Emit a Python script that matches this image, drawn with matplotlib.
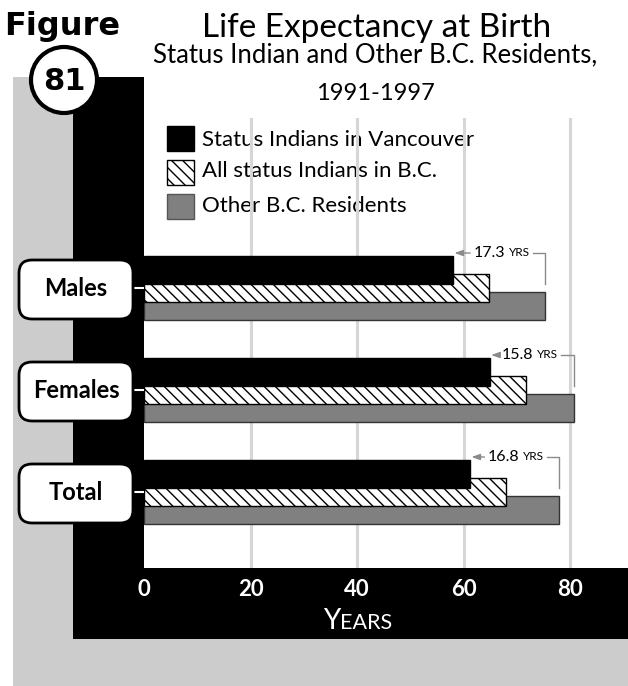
import matplotlib
matplotlib.use("Agg")
import matplotlib.pyplot as plt
from matplotlib.patches import Rectangle, Circle, FancyBboxPatch
import numpy as np

# data
groups = ["Males", "Females", "Total"]
vancouver = [58.0, 64.9, 61.2]
all_bc_status = [64.8, 71.7, 68.0]
other_bc = [75.3, 80.7, 78.0]
gap_labels = ["17.3", "15.8", "16.8"]
series_names = ["Status Indians in Vancouver", "All status Indians in B.C.", "Other B.C. Residents"]
xticks = [0, 20, 40, 60, 80]

W, H = 628, 686
plt.rcParams["font.family"] = ["Lato", "DejaVu Sans"]
plt.rcParams["hatch.linewidth"] = 1.0

fig = plt.figure(figsize=(W / 100, H / 100), dpi=100)

# background in pixel coords
bg = fig.add_axes([0, 0, 1, 1])
bg.set_xlim(0, W)
bg.set_ylim(H, 0)
bg.axis("off")
bg.add_patch(Rectangle((13, 77), W - 13, H - 77, color="#cccccc", lw=0))
bg.add_patch(Rectangle((73, 77), W - 73, 639 - 77, color="black", lw=0))
bg.add_patch(Rectangle((144, 77), W - 144, 568 - 77, color="white", lw=0))

# plot axes
ax = fig.add_axes([144 / W, (H - 568) / H, (W - 144) / W, (568 - 118) / H])
ax.set_facecolor("none")
ax.set_xlim(0, (W - 144) / 5.325)
ax.set_ylim(2 + 76 / 102, -170 / 102)
for s in ax.spines.values():
    s.set_visible(False)
ax.set_xticks(xticks)
ax.set_yticks([])
ax.tick_params(axis="x", length=0, pad=8, labelcolor="white", labelsize=16)
for lab in ax.get_xticklabels():
    lab.set_fontweight("bold")
ax.grid(axis="x", color="#d6d6d6", lw=2.2)
ax.set_axisbelow(True)
ax.get_xgridlines()[0].set_visible(False)

y = np.arange(len(groups))
bh = 28 / 102
off = 18 / 102
ax.barh(y + off, other_bc, height=bh, color="#808080", edgecolor="#333333", lw=1)
ax.barh(y, all_bc_status, height=bh, color="white", edgecolor="black", lw=1, hatch="\\\\\\")
ax.barh(y - off, vancouver, height=bh, color="black", edgecolor="black", lw=1)

# gap annotations
fig.canvas.draw()
r = fig.canvas.get_renderer()
inv = ax.transData.inverted()
ann = "#8a8a8a"
for i in range(len(groups)):
    ya = i - off - bh / 2 - 3 / 102
    t_yrs = ax.annotate("YRS", (other_bc[i], ya), xytext=(-11, 0), textcoords="offset points",
                        ha="right", va="center", fontsize=8.5, color="black")
    bb2 = t_yrs.get_window_extent(r)
    x_num = inv.transform((bb2.x0 - 4, 0))[0]
    t_num = ax.text(x_num, ya, gap_labels[i], ha="right", va="center", fontsize=11.5, color="black")
    bb = t_num.get_window_extent(r)
    x_left = inv.transform((bb.x0 - 3, 0))[0]
    ax.annotate("", xy=(vancouver[i] + 0.3, ya), xytext=(x_left, ya),
                arrowprops=dict(arrowstyle="-|>,head_length=0.5,head_width=0.18", color=ann, lw=1,
                                shrinkA=0, shrinkB=0))
    x_right = inv.transform((bb2.x1 + 3, 0))[0]
    ax.plot([x_right, other_bc[i], other_bc[i]], [ya, ya, i - off + bh / 2], color=ann, lw=1)

# category label boxes
for i, g in enumerate(groups):
    yc = H - ax.transData.transform((0, i))[1]
    bg.add_patch(FancyBboxPatch((19, yc - 28), 114, 59, boxstyle="round,pad=0,rounding_size=13",
                                fc="white", ec="black", lw=2, zorder=5))
    bg.text(76, yc + 1, g, ha="center", va="center", fontsize=17, fontweight="bold", zorder=6)
    bg.plot([133, 144], [yc, yc], color="white", lw=1.5, zorder=4)

# legend
lx = 167
for k, (name, yy) in enumerate(zip(series_names, [138, 172, 206])):
    fc = ["black", "white", "#808080"][k]
    bg.add_patch(Rectangle((lx, yy - 12.5), 27, 25, fc=fc, ec="black" if k < 2 else "#555555", lw=1,
                           hatch="\\\\\\" if k == 1 else None))
    bg.text(202, [146, 177, 212][k], name, ha="left", va="baseline", fontsize=16)

# titles
bg.text(377, 37, "Life Expectancy at Birth", ha="center", va="baseline", fontsize=24)
bg.text(375, 62, "Status Indian and Other B.C. Residents,", ha="center", va="baseline", fontsize=18.5)
bg.text(375, 100, "1991-1997", ha="center", va="baseline", fontsize=17)

# figure badge
bg.text(62, 27, "Figure", ha="center", va="center", fontsize=23, fontweight="bold",
        family="DejaVu Sans")
bg.add_patch(Circle((64, 80), 33, fc="white", ec="black", lw=3, zorder=5))
bg.text(64, 81, "81", ha="center", va="center", fontsize=22, fontweight="bold",
        family="DejaVu Sans", zorder=6)

# x axis title in small caps
bg.text(340, 629, "Y", ha="right", va="baseline", fontsize=20, color="white")
bg.text(340, 629, "EARS", ha="left", va="baseline", fontsize=15.5, color="white")

fig.savefig("out.png", dpi=100)
